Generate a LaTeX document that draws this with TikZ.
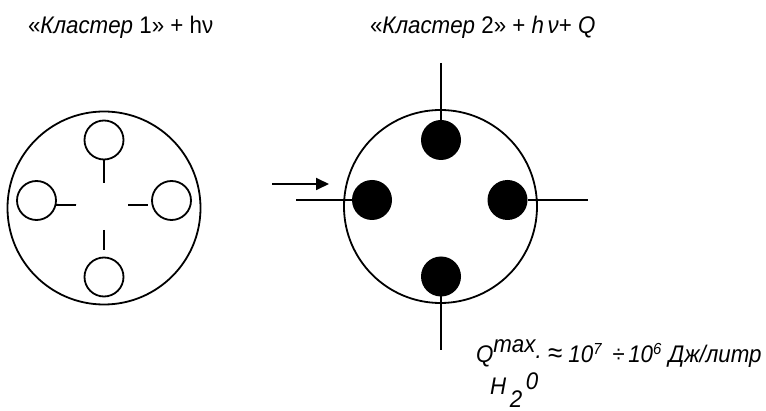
\documentclass[tikz,border=0pt]{standalone}
\usepackage{fontspec}
\setmainfont{Liberation Sans}
\usetikzlibrary{arrows.meta}
\tikzset{
  shell/.style={draw,circle,minimum size=96.5},
  ring/.style={draw,circle,minimum size=19.5},
  blob/.style={fill,circle,minimum size=20},
  label/.style={anchor=base west,xscale=0.93}
}
\begin{document}
\begin{tikzpicture}[x=0.5pt,y=-0.5pt,>={Triangle[length=6.5pt,width=6pt]},
  line width=0.9pt,every node/.style={inner sep=0pt,outer sep=0pt},
  font=\fontsize{12}{14}\selectfont]
\useasboundingbox (0,0) rectangle (766,411);

% titles
\node[label] (t1) at (28,34) {«\textit{Кластер} 1» + hν};
\node[label] (t2) at (370,34) {«\textit{Кластер} 2» + \textit{h}\,\textit{ν}+ \textit{Q}};

% cluster 1
\node[shell] (c1) at (104,208) {};
\node[ring] (c1t) at (104,140) {};
\node[ring] (c1l) at (36.5,200.5) {};
\node[ring] (c1r) at (171.5,200.5) {};
\node[ring] (c1b) at (104,277) {};
\coordinate (e1t) at (104,183);
\coordinate (e1l) at (76,205);
\coordinate (r1a) at (128,205);
\coordinate (r1b) at (148,205);
\coordinate (b1a) at (104,230);
\coordinate (b1b) at (104,250);
\draw (c1t) -- (e1t);
\draw (c1l.-13) -- (e1l);
\draw (r1a) -- (r1b);
\draw (b1a) -- (b1b);

% arrow
\coordinate (a0) at (272,184);
\coordinate (a1) at (329,184);
\draw[->] (a0) -- (a1);

% cluster 2
\node[shell] (c2) at (440.5,206.5) {};
\node[blob] (c2t) at (441,140) {};
\node[blob] (c2l) at (372,200) {};
\node[blob] (c2r) at (507.5,200) {};
\node[blob] (c2b) at (441,276.5) {};
\coordinate (e2t) at (441,63);
\coordinate (e2l) at (296,200);
\coordinate (e2r) at (588,200);
\coordinate (e2b) at (441,350);
\draw (e2t) -- (c2t);
\draw (e2l) -- (c2l);
\draw (c2r) -- (e2r);
\draw (c2b) -- (e2b);

% heat
\node[label] (q) at (476,363) {\itshape Q\raisebox{5pt}{max}\raisebox{2pt}{.} {\fontsize{14}{14}\selectfont ≈} 10\textsuperscript{7}\ \,÷\,10\textsuperscript{6}\ Дж/литр};
\node[label] (qs) at (490,394) {\itshape H\,\raisebox{-6.5pt}{2}\,\raisebox{2.5pt}{0}};
\end{tikzpicture}
\end{document}
